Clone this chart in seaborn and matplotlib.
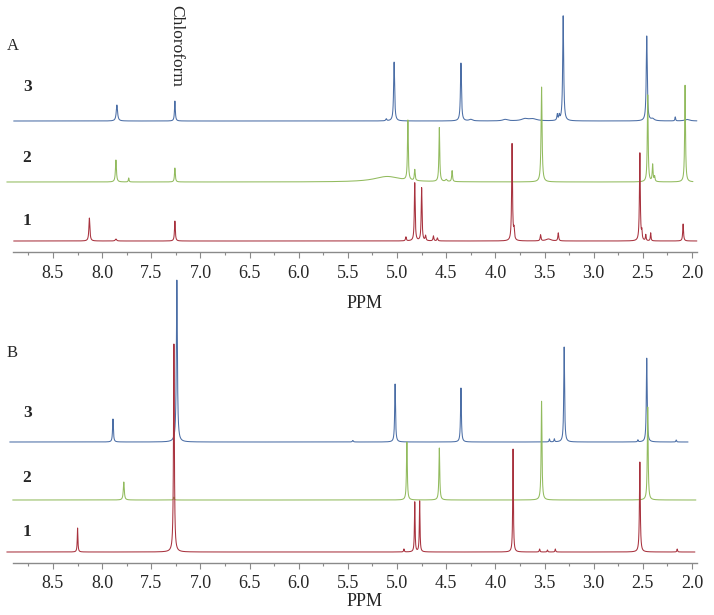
import numpy as np
import pandas as pd
import seaborn as sns
import matplotlib.pyplot as plt
from matplotlib.ticker import MultipleLocator, FormatStrFormatter

# --- Peak lists (ppm, intensity, half width) ---

# Panel A
a3_ppm = [7.85, 7.26, 5.11, 5.03, 4.35, 4.25, 3.90, 3.70, 3.62, 3.37, 3.35, 3.31, 2.46, 2.40, 2.17, 2.05]
a3_int = [16, 20, 2, 59, 58, 1.5, 1.5, 2, 2, 6, 5, 105, 85, 2, 4, 1.5]
a3_wid = [0.008, 0.005, 0.006, 0.006, 0.006, 0.02, 0.03, 0.04, 0.05, 0.005, 0.005, 0.006, 0.006, 0.02, 0.004, 0.03]

a2_ppm = [7.86, 7.73, 7.26, 5.10, 4.89, 4.82, 4.57, 4.50, 4.44, 3.53, 2.45, 2.40, 2.38, 2.07]
a2_int = [22, 4, 14, 5.5, 60, 11, 54, 2, 11, 95, 87, 17, 5, 97]
a2_wid = [0.006, 0.004, 0.005, 0.16, 0.005, 0.005, 0.005, 0.01, 0.005, 0.006, 0.005, 0.005, 0.005, 0.005]

a1_ppm = [8.13, 7.86, 7.26, 4.91, 4.82, 4.75, 4.71, 4.63, 4.59, 3.83, 3.81, 3.54, 3.46, 3.36,
          2.53, 2.51, 2.47, 2.42, 2.09]
a1_int = [23, 2, 20, 4, 58, 53, 5, 5, 3, 97, 10, 6, 2, 8, 88, 8, 6, 8, 17]
a1_wid = [0.006, 0.008, 0.005, 0.005, 0.005, 0.005, 0.005, 0.005, 0.005, 0.005, 0.005, 0.005, 0.03,
          0.005, 0.005, 0.004, 0.004, 0.004, 0.005]

# Panel B
b3_ppm = [7.89, 7.24, 5.45, 5.02, 4.35, 3.45, 3.40, 3.30, 2.55, 2.46, 2.16]
b3_int = [23, 162, 1.5, 58, 54, 3, 3, 95, 2, 84, 2]
b3_wid = [0.005, 0.006, 0.006, 0.005, 0.005, 0.004, 0.004, 0.005, 0.004, 0.005, 0.004]

b2_ppm = [7.78, 7.27, 4.90, 4.57, 3.53, 2.45]
b2_int = [18, 3, 58, 52, 99, 93]
b2_wid = [0.006, 0.004, 0.005, 0.005, 0.005, 0.005]

b1_ppm = [8.25, 7.27, 4.93, 4.82, 4.77, 3.82, 3.55, 3.47, 3.39, 2.53, 2.15]
b1_int = [24, 208, 3, 50, 51, 103, 3, 2, 3, 90, 3]
b1_wid = [0.004, 0.005, 0.004, 0.004, 0.004, 0.004, 0.004, 0.004, 0.004, 0.005, 0.004]

colors = {"1": "#a8323e", "2": "#92bb5e", "3": "#4b6ea6"}


def spectrum(ppm, inten, wid, start, stop, n=12000):
    """Lorentzian line shape built from a peak list."""
    x = np.linspace(start, stop, n)
    y = np.zeros_like(x)
    for p, h, w in zip(ppm, inten, wid):
        y += h * w**2 / ((x - p) ** 2 + w**2)
    return pd.DataFrame({"ppm": x, "I": y})


# --- Layout (pixels of the 714x615 figure) ---
W, H = 714, 615
PX_PER_PPM = 98.3
X_85 = 53          # x pixel of 8.5 ppm
XLIM = (8.98, 1.92)
AX_LEFT = X_85 - (XLIM[0] - 8.5) * PX_PER_PPM
AX_WIDTH = (XLIM[0] - XLIM[1]) * PX_PER_PPM

sns.set_theme(style="white")
plt.rcParams['font.family'] = ['Liberation Serif', 'DejaVu Serif']
plt.rcParams['font.size'] = 13

fig = plt.figure(figsize=(W / 100, H / 100), dpi=100)

panels = [
    # name, axis line y, top y, traces (label, peaks, offset, x range)
    ("A", 252, 0, [
        ("3", (a3_ppm, a3_int, a3_wid), 131, (8.90, 1.95)),
        ("2", (a2_ppm, a2_int, a2_wid), 70, (8.97, 1.99)),
        ("1", (a1_ppm, a1_int, a1_wid), 11, (8.90, 1.95)),
    ]),
    ("B", 563, 265, [
        ("3", (b3_ppm, b3_int, b3_wid), 121, (8.94, 2.04)),
        ("2", (b2_ppm, b2_int, b2_wid), 63, (8.91, 1.96)),
        ("1", (b1_ppm, b1_int, b1_wid), 11, (8.97, 1.97)),
    ]),
]

for name, y_axis, y_top, traces in panels:
    height = y_axis - y_top
    ax = fig.add_axes([AX_LEFT / W, (H - y_axis) / H, AX_WIDTH / W, height / H])
    ax.patch.set_alpha(0)
    for lab, (pp, ii, ww), off, (s, e) in traces:
        df = spectrum(pp, ii, ww, s, e)
        df["I"] += off
        sns.lineplot(data=df, x="ppm", y="I", ax=ax, color=colors[lab], lw=0.75,
                     sort=False, estimator=None, clip_on=False)
    ax.set_xlim(*XLIM)
    ax.set_ylim(0, height)
    for sp in ["top", "left", "right"]:
        ax.spines[sp].set_visible(False)
    ax.spines["bottom"].set_color("#8a8a8a")
    ax.spines["bottom"].set_linewidth(1.0)
    ax.spines["bottom"].set_bounds(8.91, 1.95)
    ax.xaxis.set_major_locator(MultipleLocator(0.5))
    ax.xaxis.set_minor_locator(MultipleLocator(0.25))
    ax.xaxis.set_major_formatter(FormatStrFormatter("%.1f"))
    ax.tick_params(axis="x", which="major", direction="out", length=4, width=0.8,
                   color="#8a8a8a", pad=5, labelsize=13, bottom=True)
    ax.tick_params(axis="x", which="minor", direction="out", length=2.5, width=0.8,
                   color="#8a8a8a", bottom=True)
    ax.set_yticks([])
    ax.set_xlabel("")
    ax.set_ylabel("")

# --- Text ---
def ftext(x, y, s, **kw):
    fig.text(x / W, 1 - y / H, s, **kw)

ftext(7, 46, "A", ha="left", va="center", fontsize=12)
ftext(7, 353, "B", ha="left", va="center", fontsize=12)
ftext(176, 46, "Chloroform", ha="center", va="center", rotation=270, fontsize=12.5)
for x, y, s in [(28, 87, "3"), (27, 158, "2"), (27, 221, "1"),
                (28, 413, "3"), (27, 478, "2"), (27, 532, "1")]:
    ftext(x, y, s, ha="center", va="center", fontsize=12.5, fontweight="bold")
ftext(365, 303, "PPM", ha="center", va="center", fontsize=13)
ftext(365, 602, "PPM", ha="center", va="center", fontsize=13)

fig.savefig("out.png", dpi=100)
